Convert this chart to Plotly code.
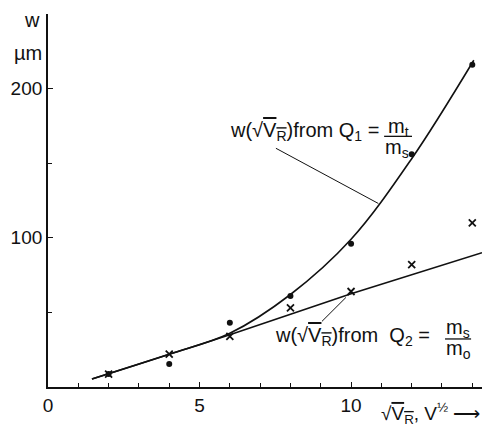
import plotly.graph_objects as go

# measured points
x_pts = [2, 4, 6, 8, 10, 12, 14]
w_q1 = [8.7, 15.4, 43, 61, 96, 156, 216]     # dots, from Q1 = mt/ms
w_q2 = [8.7, 22, 34, 53, 64, 82, 110]        # crosses, from Q2 = ms/mo

# fitted curves
fit1_x = [1.45, 4, 6, 8, 10, 12, 14.05]
fit1_y = [5.4, 22, 36, 62, 99, 153, 219]
fit2_x = [1.45, 4, 6, 10, 14.32]
fit2_y = [5.4, 22, 35, 62.5, 90]

x_ticks = [0, 5, 10]
y_ticks = [100, 200]

FONT = "Liberation Sans"
BLACK = "#111111"

fig = go.Figure()
fig.add_trace(go.Scatter(x=fit1_x, y=fit1_y, mode="lines",
                         line=dict(color=BLACK, width=1.6, shape="spline", smoothing=1.0),
                         hoverinfo="skip"))
fig.add_trace(go.Scatter(x=fit2_x, y=fit2_y, mode="lines",
                         line=dict(color=BLACK, width=1.6, shape="spline", smoothing=0.5),
                         hoverinfo="skip"))
fig.add_trace(go.Scatter(x=x_pts, y=w_q1, mode="markers",
                         marker=dict(symbol="circle", size=6, color=BLACK)))
fig.add_trace(go.Scatter(x=x_pts, y=w_q2, mode="markers",
                         marker=dict(symbol="x-thin", size=7, color=BLACK,
                                     line=dict(color=BLACK, width=1.8))))

# leader lines
fig.add_shape(type="line", x0=7.52, y0=160, x1=10.9, y1=123,
              line=dict(color=BLACK, width=1))
fig.add_shape(type="line", x0=9.04, y0=44, x1=9.83, y1=60,
              line=dict(color=BLACK, width=1))
# fraction bars
fig.add_shape(type="line", x0=11.09, y0=168, x1=12.01, y1=168,
              line=dict(color=BLACK, width=1.3))
fig.add_shape(type="line", x0=13.1, y0=32.2, x1=13.96, y1=32.2,
              line=dict(color=BLACK, width=1.3))

sqrtv = '(√<span style="text-decoration:overline">V<sub>R</sub></span>)'
tf = dict(family=FONT, size=20, color=BLACK)
fig.add_annotation(x=5.94, y=171, xref="x", yref="y", xanchor="left", yanchor="middle",
                   text="w" + sqrtv + "from Q<sub>1</sub> =", showarrow=False, font=tf)
fig.add_annotation(x=11.55, y=174, xref="x", yref="y", xanchor="center", yanchor="middle",
                   text="m<sub>t</sub>", showarrow=False, font=tf)
fig.add_annotation(x=11.5, y=160, xref="x", yref="y", xanchor="center", yanchor="middle",
                   text="m<sub>s</sub>", showarrow=False, font=tf)

fig.add_annotation(x=7.43, y=34, xref="x", yref="y", xanchor="left", yanchor="middle",
                   text="w" + sqrtv + "from\u00a0\u00a0Q<sub>2</sub> =", showarrow=False, font=tf)
fig.add_annotation(x=13.53, y=39, xref="x", yref="y", xanchor="center", yanchor="middle",
                   text="m<sub>s</sub>", showarrow=False, font=tf)
fig.add_annotation(x=13.53, y=25, xref="x", yref="y", xanchor="center", yanchor="middle",
                   text="m<sub>o</sub>", showarrow=False, font=tf)

# axis titles
fig.add_annotation(x=1.0, y=-0.07, xref="paper", yref="paper", xanchor="right", yanchor="middle",
                   text="√<span style=\"text-decoration:overline\">V<sub>R</sub></span>, V<sup>½</sup> ⟶",
                   showarrow=False, font=dict(family=FONT, size=19, color=BLACK))
fig.add_annotation(x=-0.037, y=0.984, xref="paper", yref="paper", xanchor="center", yanchor="middle",
                   text="w", showarrow=False, font=tf)
fig.add_annotation(x=-0.045, y=0.895, xref="paper", yref="paper", xanchor="center", yanchor="middle",
                   text="µm", showarrow=False, font=tf)

fig.update_layout(
    width=482, height=430,
    margin=dict(l=48, r=0, t=14, b=43),
    paper_bgcolor="white", plot_bgcolor="white",
    showlegend=False,
    font=dict(family=FONT, size=19, color=BLACK),
    xaxis=dict(range=[0, 14.32], showgrid=False, zeroline=False,
               showline=True, linecolor=BLACK, linewidth=1.8,
               tickmode="array", tickvals=x_ticks, ticktext=[str(v) for v in x_ticks],
               ticks="inside", ticklen=5, tickwidth=1.3, tickcolor=BLACK,
               minor=dict(dtick=1, ticks="inside", ticklen=4, tickwidth=1.3, tickcolor=BLACK),
               tickfont=dict(family=FONT, size=19, color=BLACK)),
    yaxis=dict(range=[0, 250], showgrid=False, zeroline=False,
               showline=True, linecolor=BLACK, linewidth=1.8,
               tickmode="array", tickvals=y_ticks, ticktext=[str(v) for v in y_ticks],
               ticks="inside", ticklen=5, tickwidth=1.3, tickcolor=BLACK,
               minor=dict(dtick=50, ticks="inside", ticklen=4, tickwidth=1.3, tickcolor=BLACK),
               tickfont=dict(family=FONT, size=19, color=BLACK)),
)

fig.write_html("out.html", config={"displayModeBar": False},
               post_script="document.body.style.margin='0';document.body.style.overflow='hidden';")
